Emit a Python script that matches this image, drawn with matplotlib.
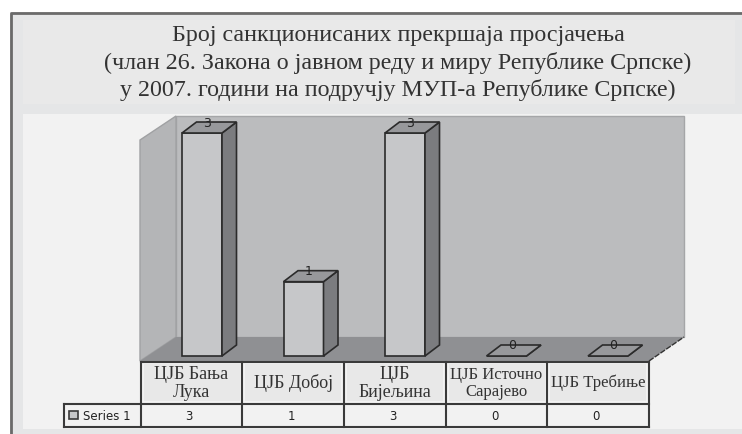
import matplotlib
matplotlib.use("Agg")
import matplotlib.pyplot as plt
from matplotlib.patches import Polygon, Rectangle

# data
title_lines = [
    "Број санкционисаних прекршаја просјачења",
    "(члан 26. Закона о јавном реду и миру Републике Српске)",
    "у 2007. години на подручју МУП-а Републике Српске)",
]
categories = ["ЦЈБ Бања\nЛука", "ЦЈБ Добој", "ЦЈБ\nБијељина", "ЦЈБ Источно\nСарајево", "ЦЈБ Требиње"]
values = [3, 1, 3, 0, 0]
series_name = "Series 1"
label_sizes = [13, 13, 13, 12, 12]

W, H = 742, 435
plt.rcParams["font.family"] = ["Liberation Serif", "DejaVu Serif"]
fig = plt.figure(figsize=(W / 100, H / 100), dpi=100, facecolor="white")


def pixel_axes():
    a = fig.add_axes([0, 0, 1, 1])
    a.set_xlim(0, W)
    a.set_ylim(H, 0)
    a.axis("off")
    return a


# ---------------------------------
# background layer, in pixels
# ---------------------------------
bg = pixel_axes()
bg.add_patch(Rectangle((10, 13), W - 10, H - 13, fc="#e5e6e7", ec="none"))
bg.plot([11, 11, W], [H, 14, 14], color="#6a6a6a", lw=2)
bg.add_patch(Rectangle((23, 21), 712, 84, fc="#e9e9e9", ec="none"))
bg.add_patch(Rectangle((23, 115), W - 23, 315, fc="#f2f2f2", ec="none"))

for y, line in zip([36, 63, 90], title_lines):
    bg.text(398, y, line, fontsize=17.3, color="#333333", ha="center", va="center")

# walls
bg.add_patch(Polygon([(176, 117), (684, 117), (684, 338), (176, 338)], fc="#bbbcbe", ec="#a5a6a8", lw=1))
bg.add_patch(Polygon([(140, 141), (176, 117), (176, 338), (140, 362)], fc="#b4b5b7", ec="#a0a1a3", lw=1))
bg.add_patch(Polygon([(140, 362), (176, 338), (684, 338), (649, 362)], fc="#8f9093", ec="none"))
bg.plot([649, 684], [362, 338], color="#333333", lw=1, ls=(0, (4, 1)))

# ---------------------------------
# bars, y axis is the value
# ---------------------------------
bar_x0, bar_dx = 202, 101.5
zero_px, per_unit = 357, 74.33
ax = fig.add_axes([0, 0, 1, 1])
ax.set_xlim((0 - bar_x0) / bar_dx, (W - bar_x0) / bar_dx)
ax.set_ylim((zero_px - H) / per_unit, zero_px / per_unit)
ax.axis("off")

bar_w = 40 / bar_dx
depth_x, depth_y = 14.5 / bar_dx, 11 / per_unit
edge = "#2b2b2b"
for i, v in enumerate(values):
    l, r = i - bar_w / 2, i + bar_w / 2
    ax.bar(i, v, width=bar_w, color="#c6c7c9", edgecolor=edge, linewidth=1.2, zorder=3)
    ax.add_patch(Polygon([(r, 0), (r + depth_x, depth_y), (r + depth_x, v + depth_y), (r, v)],
                         fc="#7b7c7f", ec=edge, lw=1.2, zorder=3))
    ax.add_patch(Polygon([(l, v), (l + depth_x, v + depth_y), (r + depth_x, v + depth_y), (r, v)],
                         fc="#97989b", ec=edge, lw=1.2, zorder=3))
    ax.text(i + depth_x / 2 - 0.02, v + depth_y, str(v), family="DejaVu Sans", fontsize=9,
            color="#222222", ha="center", va="center", zorder=4)

# ---------------------------------
# data table, in pixels
# ---------------------------------
tbl = pixel_axes()
cell_x = [140.5 + 101.7 * k for k in range(len(categories) + 1)]
top, mid, bot = 363, 404.5, 428
line_c = "#3a3a3a"
for i, name in enumerate(categories):
    cx = (cell_x[i] + cell_x[i + 1]) / 2
    tbl.add_patch(Rectangle((cell_x[i] + 3, top + 2), 96, mid - top - 5, fc="#e8e8e8", ec="none"))
    tbl.text(cx, (top + mid) / 2 - 0.5, name, fontsize=label_sizes[i], color="#333333",
             ha="center", va="center", linespacing=1.05)
    tbl.text(cx - 2, (mid + bot) / 2, str(values[i]), family="DejaVu Sans", fontsize=8.5,
             color="#222222", ha="center", va="center")

tbl.plot([cell_x[0], cell_x[-1]], [top, top], color=line_c, lw=1.5)
tbl.plot([64, cell_x[-1]], [mid, mid], color=line_c, lw=1.5)
tbl.plot([64, cell_x[-1]], [bot, bot], color=line_c, lw=1.5)
tbl.plot([64, 64], [mid, bot], color=line_c, lw=1.5)
for x in cell_x:
    tbl.plot([x, x], [top, bot], color=line_c, lw=1.5)

# legend key and series name
tbl.add_patch(Rectangle((69, 412), 9, 8, fc="#c6c7c9", ec=line_c, lw=1.2))
tbl.text(83, (mid + bot) / 2, series_name, family="DejaVu Sans", fontsize=8.5, color="#222222",
         ha="left", va="center")

fig.savefig("out.png", dpi=100)
